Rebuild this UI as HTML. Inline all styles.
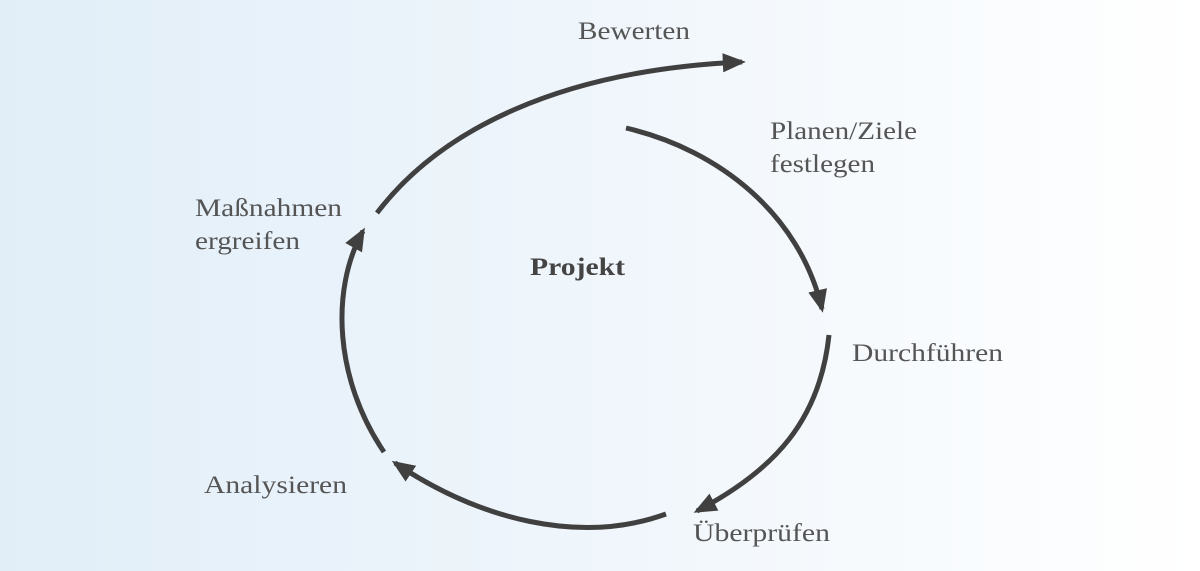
<!DOCTYPE html>
<html><head><meta charset="utf-8"><style>
html,body{margin:0;padding:0}
body{width:1200px;height:571px;overflow:hidden;background:linear-gradient(90deg,#e1eef8 0%,#eef5fb 45%,#ffffff 100%);}
svg{position:absolute;left:0;top:0}
text{font-family:"Liberation Serif",serif;font-size:25px;fill:#555}
</style></head><body>
<svg width="1200" height="571" viewBox="0 0 1200 571">
<defs><marker id="a" viewBox="0 0 12 10" refX="10" refY="5" markerWidth="4.6" markerHeight="4" orient="auto" markerUnits="strokeWidth"><path d="M0,0 L12,5 L0,10 z" fill="#404040"/></marker></defs>
<g fill="none" stroke="#404040" stroke-width="5" marker-end="url(#a)">
<path d="M377,213 C440,130 560,70 742,62"/>
<path d="M626,128 C720,150 800,215 822,309"/>
<path d="M829,335 C820,420 775,470 697,511"/>
<path d="M666,514 C580,545 480,520 395,463"/>
<path d="M384,452 C335,380 330,290 363,231"/>
</g>
<text x="578" y="39" textLength="112" lengthAdjust="spacingAndGlyphs">Bewerten</text>
<text x="770" y="139" textLength="147" lengthAdjust="spacingAndGlyphs">Planen/Ziele</text>
<text x="770" y="172" textLength="105" lengthAdjust="spacingAndGlyphs">festlegen</text>
<text x="852" y="361" textLength="151" lengthAdjust="spacingAndGlyphs">Durchführen</text>
<text x="693" y="541" textLength="137" lengthAdjust="spacingAndGlyphs">Überprüfen</text>
<text x="204" y="493" textLength="143" lengthAdjust="spacingAndGlyphs">Analysieren</text>
<text x="195" y="216" textLength="147" lengthAdjust="spacingAndGlyphs">Maßnahmen</text>
<text x="195" y="249" textLength="105" lengthAdjust="spacingAndGlyphs">ergreifen</text>
<text x="530" y="275" textLength="95" lengthAdjust="spacingAndGlyphs" style="font-weight:bold;fill:#444">Projekt</text>
</svg>
</body></html>
